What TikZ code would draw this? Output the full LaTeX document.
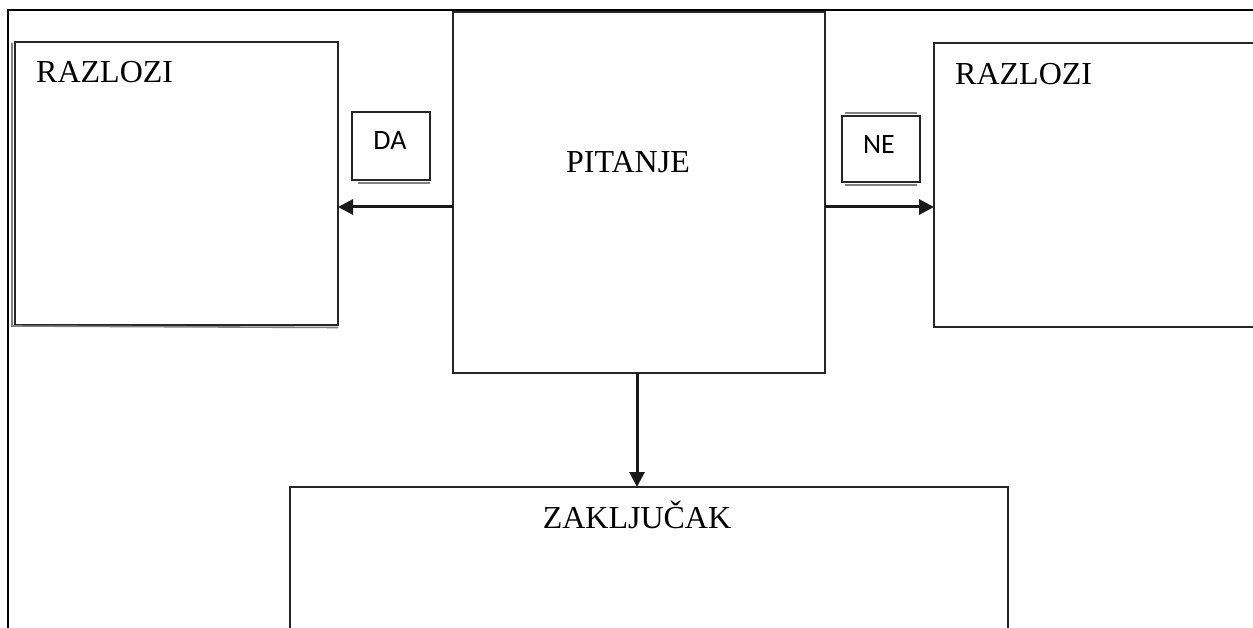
\documentclass[tikz,border=0pt]{standalone}
\usepackage{fontspec}
\setmainfont{Liberation Serif}
\newfontfamily\calib{Carlito}
\usetikzlibrary{arrows.meta}
\begin{document}
\begin{tikzpicture}[x=1pt,y=-1pt,
  box/.style={draw=black!85,line width=1.5pt,inner sep=0pt,outer sep=0pt},
  lbl/.style={font=\fontsize{32}{32}\selectfont,inner sep=0pt,anchor=base west},
  tag/.style={draw=black!85,line width=1.2pt,inner sep=0pt,outer sep=0pt,minimum width=78pt,minimum height=68pt},
  tagtxt/.style={font=\calib\fontsize{28}{28}\selectfont,inner sep=0pt},
  shade/.style={draw=black!50,line width=1.6pt},
  arr/.style={draw=black!90,line width=3pt,-{Triangle[length=15pt,width=15pt]}}]
\useasboundingbox (0,0) rectangle (1253,628);
% outer frame
\coordinate (fbl) at (8,628);
\coordinate (ftl) at (8,10);
\coordinate (ftr) at (1253,10);
\draw[black,line width=2pt] (fbl) -- (ftl) -- (ftr);
% left box
\node[box,minimum width=323pt,minimum height=283pt] (lbox) at (176.5,183.5) {};
\draw[shade] ([xshift=-3pt,yshift=-1pt]lbox.north west) -- ([xshift=-3pt,yshift=-1pt]lbox.south west) -- ([yshift=-2.5pt]lbox.south east);
\node[lbl] (ltxt) at (36,83) {RAZLOZI};
% question box
\node[box,minimum width=372pt,minimum height=361pt] (pit) at (639,192.5) {};
\node[lbl,anchor=base] (ptxt) at (628,173) {PITANJE};
% right box (open at the right)
\coordinate (rtr) at (1253,43);
\coordinate (rtl) at (934,43);
\coordinate (rbl) at (934,327);
\coordinate (rbr) at (1253,327);
\draw[box] (rtr) -- (rtl) -- (rbl) -- (rbr);
\node[lbl] (rtxt) at (955,85) {RAZLOZI};
% conclusion box (open at the bottom)
\coordinate (zbl) at (290,628);
\coordinate (ztl) at (290,487);
\coordinate (ztr) at (1008,487);
\coordinate (zbr) at (1008,628);
\draw[box] (zbl) -- (ztl) -- (ztr) -- (zbr);
\node[lbl,anchor=base] (ztxt) at (637,528) {ZAKLJUČAK};
% DA / NE tags
\node[tag] (da) at (391,146) {};
\node[tagtxt] (datxt) at (390,141) {DA};
\draw[shade] ([xshift=6pt,yshift=-3pt]da.south west) -- ([yshift=-3pt]da.south east);
\node[tag,minimum height=66pt] (ne) at (881,149) {};
\node[tagtxt] (netxt) at (879,145) {NE};
\draw[shade] ([xshift=3pt,yshift=3pt]ne.north west) -- ([xshift=-3pt,yshift=3pt]ne.north east);
\draw[shade] ([xshift=3pt,yshift=-3pt]ne.south west) -- ([xshift=-3pt,yshift=-3pt]ne.south east);
% arrows
\draw[arr] ([yshift=-14.5pt]pit.west) -- ([yshift=-14.5pt]pit.west -| lbox.east);
\draw[arr] ([yshift=-14.5pt]pit.east) -- ([yshift=-14.5pt]pit.east -| rtl);
\draw[arr] ([xshift=-2pt]pit.south) -- ([xshift=-2pt]pit.south |- ztl);
\end{tikzpicture}
\end{document}
